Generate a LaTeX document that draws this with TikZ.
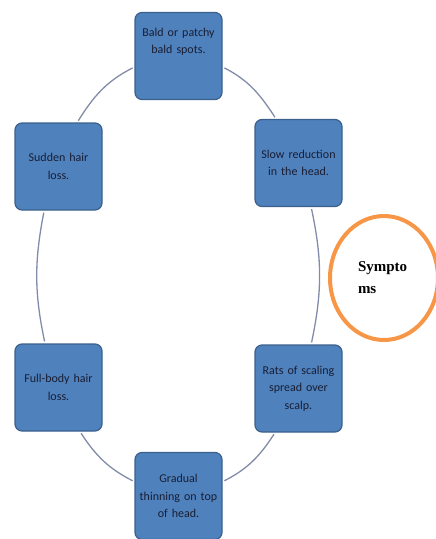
\documentclass[tikz,border=0pt]{standalone}
\usepackage{fontspec}
\setmainfont{Carlito}
\newfontfamily\circlefont{Liberation Serif}
\definecolor{boxBlue}{RGB}{79,129,189}
\definecolor{boxEdge}{RGB}{60,96,140}
\definecolor{ringGray}{RGB}{130,140,168}
\definecolor{textNavy}{RGB}{25,30,50}
\definecolor{accentOrange}{RGB}{247,150,70}
\usepackage{tikz}
\usetikzlibrary{shapes.geometric}

\begin{document}
\begin{tikzpicture}[
    x=1pt, y=-1pt,
    symptom/.style={draw=boxEdge, line width=1.2pt, rounded corners=7pt, fill=boxBlue,
                    minimum width=87pt, minimum height=87pt, text width=80pt,
                    align=center, inner sep=3pt, text=textNavy,
                    font=\fontsize{12}{17.5}\selectfont},
    ring/.style={draw=ringGray, line width=1.3pt, shorten <=2pt, shorten >=2pt},
    topic/.style={ellipse, draw=accentOrange, line width=4pt, fill=white,
                  minimum width=108pt, minimum height=124pt, text width=52pt,
                  align=left, inner sep=0pt, font=\circlefont\bfseries\fontsize{15}{22}\selectfont}
  ]
    \useasboundingbox (0,0) rectangle (436,539);
    \node[symptom, text depth=48pt] (bald) at (178.5,56) {Bald or patchy\\bald spots.};
    \node[symptom] (slow) at (298.5,163) {Slow reduction\\in the head.};
    \node[symptom] (flats) at (298.5,388.5) {Rats of scaling\\spread over\\scalp.};
    \node[symptom] (gradual) at (178.5,496) {Gradual\\thinning on top\\of head.};
    \node[symptom] (fullbody) at (58.5,387.5) {Full-body hair\\loss.};
    \node[symptom] (sudden) at (58.5,166.5) {Sudden hair\\loss.};
    \node[topic] (symptoms) at (384,278) {Sympto\\ms};

    \draw[ring] (bald.-14) to[out=-27, in=123] (slow.117);
    \draw[ring] (slow.-74) to[out=-78, in=78] (flats.74);
    \draw[ring] (flats.-118) to[out=-123, in=27] (gradual.18);
    \draw[ring] (gradual.162) to[out=153, in=-57] (fullbody.-64);
    \draw[ring] (fullbody.107) to[out=102, in=-101] (sudden.-108);
    \draw[ring] (sudden.67) to[out=58, in=-153] (bald.-166);
  \end{tikzpicture}
\end{document}
